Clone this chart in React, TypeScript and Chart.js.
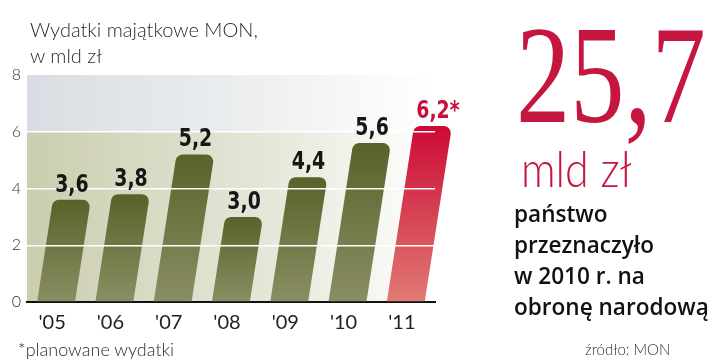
import React, { useEffect, useRef } from "react";
import { Chart, registerables } from "chart.js";

Chart.register(...registerables);

const categories = ["'05", "'06", "'07", "'08", "'09", "'10", "'11"];
const values = [3.6, 3.8, 5.2, 3.0, 4.4, 5.6, 6.2];
const planned = [false, false, false, false, false, false, true];
const yTickValues = [0, 2, 4, 6, 8];
const bandBreak = 6;

const SLANT = 0.155;
const RED = "#c8103a";
const LABEL_SQUEEZE = 0.84;

const fmt = (v: number) => v.toFixed(1).replace(".", ",");

const slantPlugin = {
  id: "slantBars",
  beforeDraw(chart: any) {
    const { ctx, chartArea, scales } = chart;
    const { left, right } = chartArea;
    const y = scales.y;
    const y0 = y.getPixelForValue(0);
    const yb = y.getPixelForValue(bandBreak);
    const y8 = y.getPixelForValue(yTickValues[yTickValues.length - 1]);
    ctx.save();
    const g1 = ctx.createLinearGradient(left, 0, right, 0);
    g1.addColorStop(0, "#d9dde3");
    g1.addColorStop(0.6, "#eef0f1");
    g1.addColorStop(1, "#ffffff");
    ctx.fillStyle = g1;
    ctx.fillRect(left, y8, right - left, yb - y8);
    const g2 = ctx.createLinearGradient(left, 0, right, 0);
    g2.addColorStop(0, "#cbcdae");
    g2.addColorStop(0.6, "#e6e7da");
    g2.addColorStop(1, "#ffffff");
    ctx.fillStyle = g2;
    ctx.fillRect(left, yb, right - left, y0 - yb);
    ctx.restore();
  },
  afterDatasetsDraw(chart: any) {
    const { ctx } = chart;
    const meta = chart.getDatasetMeta(0);
    ctx.save();
    meta.data.forEach((el: any, i: number) => {
      const { x, y, base, width } = el.getProps(["x", "y", "base", "width"], true);
      const h = base - y;
      const dx = h * SLANT;
      const xl = x - width / 2;
      const xr = x + width / 2;
      const r = 7;
      ctx.beginPath();
      ctx.moveTo(xl, base);
      ctx.arcTo(xl + dx, y, xr + dx, y, r);
      ctx.arcTo(xr + dx, y, xr, base, r);
      ctx.lineTo(xr, base);
      ctx.closePath();
      const g = ctx.createLinearGradient(0, y, 0, base);
      if (planned[i]) {
        g.addColorStop(0, "#cc0a36");
        g.addColorStop(1, "#e07a72");
      } else {
        g.addColorStop(0, "#59622a");
        g.addColorStop(1, "#8a8e63");
      }
      ctx.fillStyle = g;
      ctx.fill();
    });
    ctx.restore();
  },
  afterDraw(chart: any) {
    const { ctx } = chart;
    const meta = chart.getDatasetMeta(0);
    ctx.save();
    ctx.font = 'bold 25px "Liberation Sans Narrow", "DejaVu Sans Condensed", sans-serif';
    ctx.textBaseline = "alphabetic";
    ctx.textAlign = "left";
    meta.data.forEach((el: any, i: number) => {
      const { x, y, base } = el.getProps(["x", "y", "base"], true);
      const cx = x + (base - y) * SLANT;
      const num = fmt(values[i]);
      const label = planned[i] ? num + "*" : num;
      const w = ctx.measureText(num).width * LABEL_SQUEEZE;
      ctx.save();
      ctx.translate(cx - w / 2, y - 8);
      ctx.scale(LABEL_SQUEEZE, 1);
      ctx.fillStyle = planned[i] ? RED : "#161616";
      ctx.fillText(label, 0, 0);
      ctx.restore();
    });
    ctx.restore();
  },
};

export default function App() {
  const ref = useRef<HTMLCanvasElement | null>(null);
  useEffect(() => {
    if (!ref.current) return;
    const chart = new Chart(ref.current, {
      type: "bar",
      data: {
        labels: categories,
        datasets: [
          {
            data: values,
            backgroundColor: "rgba(0,0,0,0)",
            borderWidth: 0,
            categoryPercentage: 1,
            barPercentage: 0.65,
          },
        ],
      },
      options: {
        animation: false,
        responsive: false,
        layout: { padding: { left: 0, top: 75, right: 285, bottom: 0 } },
        plugins: { legend: { display: false }, tooltip: { enabled: false } },
        scales: {
          x: {
            grid: { display: false, drawTicks: false },
            border: { display: true, color: "#111", width: 2 },
            ticks: {
              color: "#222",
              font: { family: "Lato", size: 20 },
              padding: 9,
              labelOffset: -4,
            },
            afterFit: (s: any) => {
              s.height = 59;
            },
          },
          y: {
            min: 0,
            max: 8,
            afterBuildTicks: (s: any) => {
              s.ticks = yTickValues.map((v) => ({ value: v }));
            },
            ticks: {
              color: "#333",
              font: { family: "Lato", size: 16, weight: "300" },
              padding: 6,
            },
            grid: {
              z: 1,
              drawTicks: false,
              lineWidth: 1.5,
              color: (c: any) =>
                c.tick && c.tick.value > 0 && c.tick.value < 8 ? "#ffffff" : "rgba(0,0,0,0)",
            },
            border: { display: false },
            afterFit: (s: any) => {
              s.width = 27;
            },
          },
        },
      },
      plugins: [slantPlugin],
    } as any);
    return () => chart.destroy();
  }, []);

  const abs = (o: React.CSSProperties): React.CSSProperties => ({
    position: "absolute",
    whiteSpace: "nowrap",
    margin: 0,
    ...o,
  });

  return (
    <div style={{ position: "absolute", left: 0, top: 0, width: 720, height: 361, background: "#fff", overflow: "hidden" }}>
      <canvas ref={ref} width={720} height={361} style={{ position: "absolute", left: 0, top: 0, width: 720, height: 361 }} />
      <div style={abs({ left: 30, top: 16, fontFamily: "Lato", fontWeight: 300, fontSize: 20, lineHeight: "26px", color: "#2a2a2a" })}>
        Wydatki majątkowe MON,
        <br />w mld zł
      </div>
      <div style={abs({ left: 18, top: 340, fontFamily: "Lato", fontWeight: 300, fontSize: 18, lineHeight: "18px", color: "#2a2a2a" })}>
        *planowane wydatki
      </div>
      <div
        style={abs({
          left: 516,
          top: 6,
          fontFamily: '"Liberation Serif", serif',
          fontSize: 139,
          lineHeight: "139px",
          color: "#c5163f",
          transform: "scaleX(0.78)",
          transformOrigin: "left top",
        })}
      >
        25,7
      </div>
      <div
        style={abs({
          left: 521,
          top: 143,
          fontFamily: "Lato",
          fontWeight: 300,
          fontSize: 50,
          lineHeight: "50px",
          color: "#c5163f",
          transform: "scaleX(0.86)",
          transformOrigin: "left top",
        })}
      >
        mld zł
      </div>
      <div
        style={abs({
          left: 514,
          top: 197,
          fontFamily: '"Open Sans"',
          fontWeight: 600,
          fontSize: 24,
          lineHeight: "31px",
          color: "#111",
          transform: "scaleX(0.94)",
          transformOrigin: "left top",
        })}
      >
        państwo
        <br />
        przeznaczyło
        <br />w 2010 r. na
        <br />
        obronę narodową
      </div>
      <div style={abs({ left: 585, top: 342, fontFamily: "Lato", fontWeight: 300, fontSize: 15, lineHeight: "15px", color: "#333" })}>
        źródło: MON
      </div>
    </div>
  );
}
